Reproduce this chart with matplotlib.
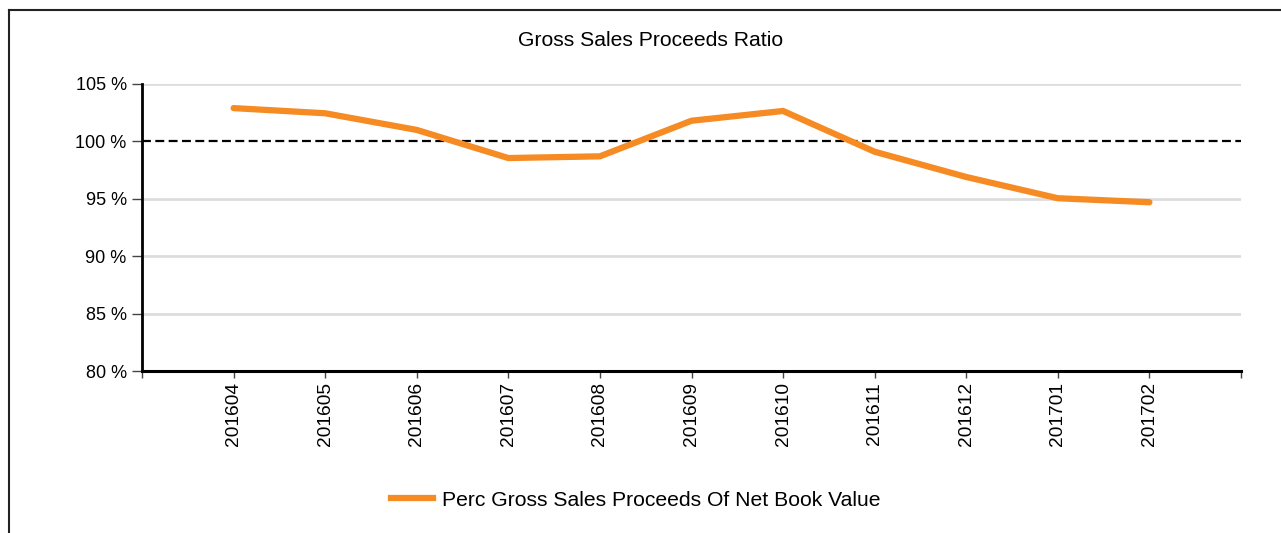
"""
Gross Sales Proceeds Ratio — monthly line against a 100 % reference.
"""
import matplotlib
matplotlib.use('Agg')
import matplotlib.pyplot as plt
from matplotlib.lines import Line2D

plt.rcParams['font.family'] = ['Liberation Sans', 'DejaVu Sans']

# Data
months = ['201604', '201605', '201606', '201607', '201608', '201609',
          '201610', '201611', '201612', '201701', '201702']
ratio = [102.9, 102.45, 101.0, 98.55, 98.7, 101.8,
         102.65, 99.1, 96.9, 95.05, 94.7]
y_ticks = [80, 85, 90, 95, 100, 105]

ORANGE = '#F68A23'
GRID = '#DDDDDD'

fig = plt.figure(figsize=(12.81, 5.33), dpi=100)
fig.patch.set_facecolor('white')
ax = fig.add_axes([142 / 1281, 1 - 371 / 533, (1241 - 142) / 1281, (371 - 84) / 533])

xs = list(range(len(months)))

# grid (skip 100, drawn dashed) and reference line
for v in y_ticks[1:]:
    if v == 100:
        continue
    ax.axhline(v, color=GRID, lw=2, zorder=1)
ax.axhline(100, color='black', lw=1.6, ls=(0, (4, 2)), zorder=2)

ax.plot(xs, ratio, color=ORANGE, lw=4.5, solid_capstyle='round',
        solid_joinstyle='miter', zorder=3,
        label='Perc Gross Sales Proceeds Of Net Book Value')

ax.set_xlim(-1, len(months))
ax.set_ylim(80, 105)

ax.set_xticks([-1] + xs + [len(months)])
ax.set_xticklabels([''] + months + [''], rotation=90, fontsize=13.8)
ax.set_yticks(y_ticks)
ax.set_yticklabels([f'{v} %' for v in y_ticks], fontsize=13)

for s in ['top', 'right']:
    ax.spines[s].set_visible(False)
ax.spines['left'].set_linewidth(2)
ax.spines['bottom'].set_linewidth(2.2)
ax.tick_params(axis='y', length=7, width=1, color='#444444', pad=4)
ax.tick_params(axis='x', length=5, width=1, color='#444444', pad=3)

fig.text(651 / 1281, 1 - 40 / 533, 'Gross Sales Proceeds Ratio',
         ha='center', va='center', fontsize=15.2)

handle = Line2D([], [], color=ORANGE, lw=4.5)
fig.legend([handle], ['Perc Gross Sales Proceeds Of Net Book Value'],
           loc='center', bbox_to_anchor=(636 / 1281, 1 - 500 / 533),
           frameon=False, fontsize=15.2, handlelength=1.95, handletextpad=0.45)

# outer frame (left and top edges)
fig.add_artist(Line2D([9 / 1281, 9 / 1281], [0, 1 - 10 / 533],
                      transform=fig.transFigure, color='#222222', lw=1.5))
fig.add_artist(Line2D([9 / 1281, 1], [1 - 10 / 533, 1 - 10 / 533],
                      transform=fig.transFigure, color='#222222', lw=1.5))

fig.savefig('out.png', dpi=100, facecolor='white')
plt.close(fig)
